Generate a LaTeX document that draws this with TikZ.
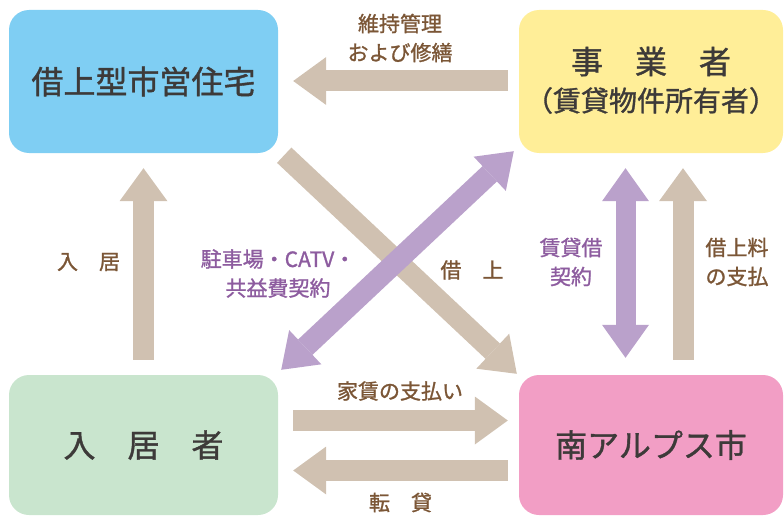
\documentclass[tikz,border=0pt]{standalone}
\usepackage{fontspec}
\setmainfont{Noto Sans CJK JP}[FakeBold=1.2]
\usetikzlibrary{arrows.meta,calc}
\definecolor{boxblue}{HTML}{7FCEF3}
\definecolor{boxyellow}{HTML}{FFEE98}
\definecolor{boxgreen}{HTML}{C9E5CE}
\definecolor{boxpink}{HTML}{F29EC5}
\definecolor{arrowtan}{HTML}{D0C1B1}
\definecolor{arrowpurple}{HTML}{BAA1CB}
\definecolor{txtbrown}{HTML}{7B5636}
\definecolor{txtpurple}{HTML}{8D5C9F}
\definecolor{txtdark}{HTML}{3D3A39}
\tikzset{
  box/.style={rounded corners=20pt, inner sep=0pt, text=txtdark,
    font=\fontsize{32}{38}\selectfont},
  tanarrow/.style={draw=arrowtan, line width=21pt, -{Triangle[length=33pt 0, width=48pt 0, line width=0pt 0]}},
  purplearrow/.style={draw=arrowpurple, line width=20pt, {Triangle[length=33pt 0, width=47pt 0, line width=0pt 0]}-{Triangle[length=33pt 0, width=47pt 0, line width=0pt 0]}},
  lbl/.style={text=txtbrown, font=\fontsize{21}{29}\selectfont, align=center, inner sep=0pt},
  plbl/.style={text=txtpurple, font=\fontsize{21}{29}\selectfont, align=center, inner sep=0pt},
}
\begin{document}
\begin{tikzpicture}[x=1pt,y=-1pt]
\useasboundingbox (0,0) rectangle (784,516);
% boxes
\node[box, fill=boxblue, minimum width=269pt, minimum height=143pt] (shi) at (143.5,81.5) {借上型市営住宅};
\node[box, fill=boxyellow, minimum width=264pt, minimum height=143pt] (jig) at (651,81.5) {};
\node[box, fill=boxgreen, minimum width=269pt, minimum height=140pt] (kyo) at (143.5,445) {入　居　者};
\node[box, fill=boxpink, minimum width=264pt, minimum height=140pt] (nan) at (651,445) {南アルプス市};
\node[text=txtdark, font=\fontsize{32}{38}\selectfont, inner sep=0pt] (jigt) at ($(jig.center)+(0,-20)$) {事　業　者};
\node[text=txtdark, font=\fontsize{28}{34}\selectfont, inner sep=0pt] (jigs) at ($(jig.center)+(0,19)$) {（賃貸物件所有者）};
% arrows
\draw[tanarrow] ($(jig.west)+(-11,-0.5)$) -- ($(shi.east)+(15,-0.5)$);
\draw[tanarrow] ($(kyo.north)+(0,-15)$) -- ($(shi.south)+(0,15)$);
\draw[tanarrow] ($(nan.north)+(32,-15)$) -- ($(jig.south)+(32,15)$);
\draw[purplearrow] ($(nan.north)+(-25.5,-17)$) -- ($(jig.south)+(-25.5,15)$);
\draw[tanarrow] ($(kyo.east)+(15,-24.5)$) -- ($(nan.west)+(-11,-24.5)$);
\draw[tanarrow] ($(nan.west)+(-11,25.5)$) -- ($(kyo.east)+(15,25.5)$);
\draw[tanarrow] ($(shi.south east)+(6,2)$) -- ($(nan.north west)+(-2,-1)$);
\draw[purplearrow, line width=21pt] ($(kyo.north east)+(3,-5)$) -- ($(jig.south west)+(-5,-2)$);
% labels
\node[lbl] (l1) at (400,38) {維持管理\\および修繕};
\node[lbl] (l2) at (88.5,262) {入　居};
\node[plbl] (l3) at (278,273.5) {駐車場・CATV・\\共益費契約};
\node[lbl] (l4) at (472,270) {借　上};
\node[plbl] (l5) at (571,262) {賃貸借\\契約};
\node[lbl] (l6) at (737,262) {借上料\\の支払};
\node[lbl] (l7) at (400,391) {家賃の支払い};
\node[lbl] (l8) at (400.5,502.5) {転　貸};
\end{tikzpicture}
\end{document}
